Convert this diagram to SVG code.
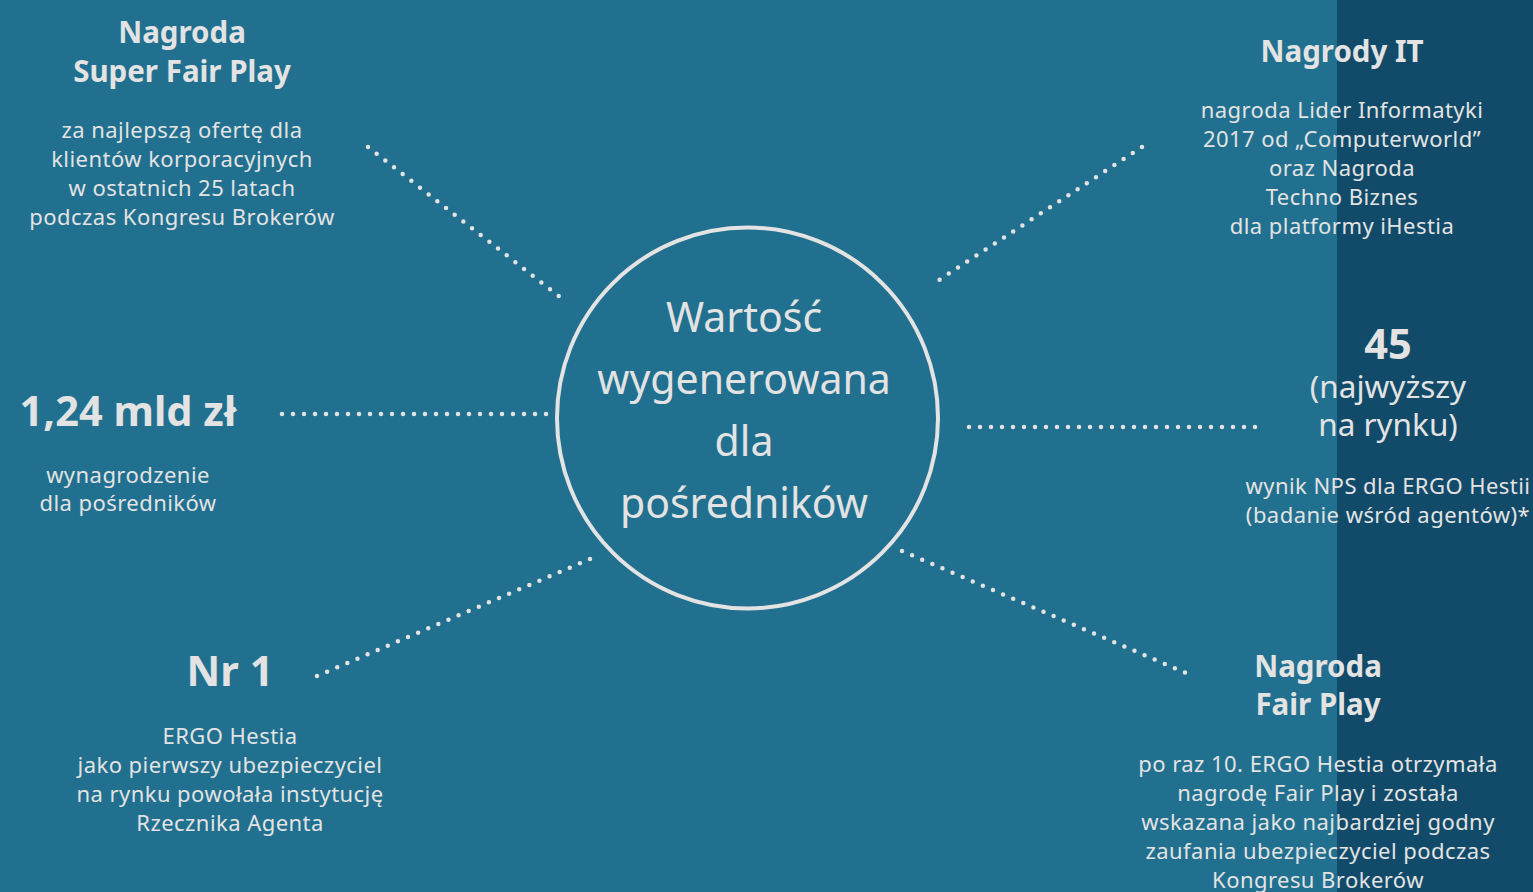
<svg xmlns="http://www.w3.org/2000/svg" width="1533" height="892" viewBox="0 0 1533 892">
<style>
text{font-family:"Noto Sans","Open Sans",sans-serif;fill:#E3E3E3;text-anchor:middle}
.t{font-weight:bold;font-size:29.5px}
.b{font-size:22px;letter-spacing:0.45px}
.big{font-weight:bold;font-size:41.5px}
.mid{font-size:31.5px}
.c{font-size:41px}
.dot{stroke:#E3E3E3;stroke-width:4.5;stroke-linecap:round;stroke-dasharray:0 11;fill:none}
</style>
<rect width="1533" height="892" fill="#21708F"/>
<rect x="1337" y="0" width="196" height="892" fill="#124B69"/>
<g id="connectors">
<line class="dot" x1="368" y1="147" x2="560" y2="297"/>
<line class="dot" x1="1142" y1="147" x2="936" y2="282"/>
<line class="dot" x1="282" y1="414" x2="552" y2="414"/>
<line class="dot" x1="969" y1="427" x2="1262" y2="427"/>
<line class="dot" x1="317" y1="676" x2="590" y2="559"/>
<line class="dot" x1="902" y1="551" x2="1193" y2="676"/>
</g>
<g id="center">
<circle cx="747.5" cy="418" r="190.5" fill="none" stroke="#E3E3E3" stroke-width="4"/>
<text class="c" x="744" y="332">Wartość</text>
<text class="c" x="744" y="394">wygenerowana</text>
<text class="c" x="744" y="456">dla</text>
<text class="c" x="744" y="518">pośredników</text>
</g>
<g id="super-fair-play">
<text class="t" x="182" y="43">Nagroda</text>
<text class="t" x="182" y="82">Super Fair Play</text>
<text class="b" x="182" y="138">za najlepszą ofertę dla</text>
<text class="b" x="182" y="167">klientów korporacyjnych</text>
<text class="b" x="182" y="196">w ostatnich 25 latach</text>
<text class="b" x="182" y="225">podczas Kongresu Brokerów</text>
</g>
<g id="nagrody-it">
<text class="t" x="1342" y="62">Nagrody IT</text>
<text class="b" x="1342" y="118">nagroda Lider Informatyki</text>
<text class="b" x="1342" y="147">2017 od „Computerworld”</text>
<text class="b" x="1342" y="176">oraz Nagroda</text>
<text class="b" x="1342" y="205">Techno Biznes</text>
<text class="b" x="1342" y="234">dla platformy iHestia</text>
</g>
<g id="mld">
<text class="big" x="128" y="426">1,24 mld zł</text>
<text class="b" x="128" y="483">wynagrodzenie</text>
<text class="b" x="128" y="511">dla pośredników</text>
</g>
<g id="nps">
<text class="big" x="1388" y="359">45</text>
<text class="mid" x="1388" y="398">(najwyższy</text>
<text class="mid" x="1388" y="436">na rynku)</text>
<text class="b" x="1388" y="494">wynik NPS dla ERGO Hestii</text>
<text class="b" x="1388" y="523">(badanie wśród agentów)*</text>
</g>
<g id="nr1">
<text class="big" x="230" y="686">Nr 1</text>
<text class="b" x="230" y="744">ERGO Hestia</text>
<text class="b" x="230" y="773">jako pierwszy ubezpieczyciel</text>
<text class="b" x="230" y="802">na rynku powołała instytucję</text>
<text class="b" x="230" y="831">Rzecznika Agenta</text>
</g>
<g id="fair-play">
<text class="t" x="1318" y="677">Nagroda</text>
<text class="t" x="1318" y="715">Fair Play</text>
<text class="b" x="1318" y="772">po raz 10. ERGO Hestia otrzymała</text>
<text class="b" x="1318" y="801">nagrodę Fair Play i została</text>
<text class="b" x="1318" y="830">wskazana jako najbardziej godny</text>
<text class="b" x="1318" y="859">zaufania ubezpieczyciel podczas</text>
<text class="b" x="1318" y="888">Kongresu Brokerów</text>
</g>
</svg>
